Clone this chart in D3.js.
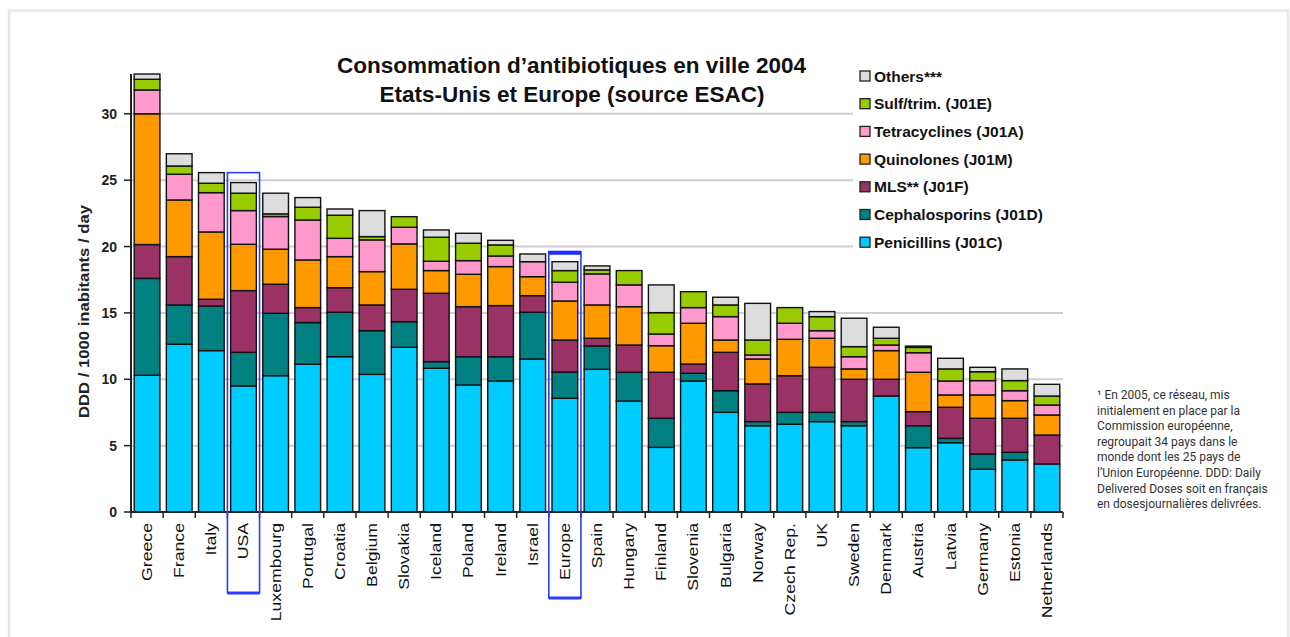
<!DOCTYPE html>
<html>
<head>
<meta charset="utf-8">
<script src="https://cdn.jsdelivr.net/npm/d3@7"></script>
<style>
  html, body { margin: 0; padding: 0; background: #fff; }
  svg { display: block; }
  .tick-label { font-family: "Liberation Sans", Arial, sans-serif; font-weight: bold; font-size: 14px; fill: #222; }
  .cat-label { font-family: "Liberation Sans", Arial, sans-serif; font-size: 15px; fill: #111; }
  .legend-label { font-family: "Liberation Sans", Arial, sans-serif; font-weight: bold; font-size: 15.5px; fill: #111; }
  .title { font-family: "Liberation Sans", Arial, sans-serif; font-weight: bold; font-size: 22px; fill: #111; }
  .note { font-family: Roboto, "Liberation Sans", sans-serif; font-size: 12px; fill: #333; }
</style>
</head>
<body>
<svg id="chart" width="1290" height="637"></svg>
<script>
// Outpatient antibiotic use, 2004 (DDD per 1000 inhabitants per day)
const categories = ["Greece", "France", "Italy", "USA", "Luxembourg", "Portugal", "Croatia", "Belgium",
  "Slovakia", "Iceland", "Poland", "Ireland", "Israel", "Europe", "Spain", "Hungary", "Finland",
  "Slovenia", "Bulgaria", "Norway", "Czech Rep.", "UK", "Sweden", "Denmark", "Austria", "Latvia",
  "Germany", "Estonia", "Netherlands"];

const penicillins    = [10.3, 12.64, 12.16, 9.5, 10.27, 11.13, 11.7, 10.37, 12.41, 10.83, 9.57, 9.87, 11.53, 8.57, 10.75, 8.36, 4.87, 9.87, 7.51, 6.5, 6.61, 6.81, 6.5, 8.74, 4.85, 5.22, 3.22, 3.92, 3.62];
const cephalosporins = [7.3, 2.96, 3.36, 2.53, 4.7, 3.14, 3.35, 3.29, 1.93, 0.5, 2.13, 1.83, 3.52, 1.98, 1.76, 2.17, 2.19, 0.58, 1.63, 0.31, 0.9, 0.7, 0.31, 0, 1.65, 0.33, 1.15, 0.58, 0];
const mls            = [2.55, 3.64, 0.51, 4.65, 2.19, 1.13, 1.85, 1.94, 2.44, 5.15, 3.77, 3.85, 1.25, 2.41, 0.58, 2.05, 3.47, 0.7, 2.89, 2.84, 2.76, 3.39, 3.19, 1.26, 1.06, 2.34, 2.69, 2.56, 2.18];
const quinolones     = [9.85, 4.27, 5.07, 3.49, 2.64, 3.59, 2.34, 2.51, 3.42, 1.71, 2.44, 2.94, 1.43, 2.94, 2.51, 2.89, 2.0, 3.07, 0.93, 1.88, 2.74, 2.19, 0.78, 2.16, 2.97, 0.93, 1.76, 1.33, 1.51];
const tetracyclines  = [1.8, 1.94, 2.96, 2.54, 2.46, 3.01, 1.38, 2.39, 1.25, 0.7, 1.03, 0.8, 1.13, 1.41, 2.34, 1.64, 0.88, 1.18, 1.76, 0.3, 1.21, 0.57, 0.92, 0.42, 1.47, 1.05, 1.08, 0.75, 0.75];
const sulfTrim       = [0.8, 0.62, 0.71, 1.31, 0.2, 0.96, 1.74, 0.25, 0.8, 1.81, 1.31, 0.83, 0, 0.88, 0.3, 1.08, 1.61, 1.2, 0.88, 1.13, 1.18, 1.06, 0.76, 0.51, 0.4, 0.91, 0.67, 0.76, 0.68];
const others         = [0.4, 0.92, 0.8, 0.8, 1.56, 0.73, 0.47, 1.96, 0, 0.55, 0.75, 0.35, 0.58, 0.67, 0.3, 0, 2.09, 0, 0.58, 2.76, 0, 0.38, 2.14, 0.83, 0.1, 0.8, 0.33, 0.88, 0.88];

const seriesNames = ["Penicillins (J01C)", "Cephalosporins (J01D)", "MLS** (J01F)", "Quinolones (J01M)",
  "Tetracyclines (J01A)", "Sulf/trim. (J01E)", "Others***"];
const seriesValues = [penicillins, cephalosporins, mls, quinolones, tetracyclines, sulfTrim, others];
const seriesColors = ["#00ccff", "#008080", "#993366", "#ff9900", "#ff99cc", "#99cc00", "#dddddd"];

const yTicks = [0, 5, 10, 15, 20, 25, 30];
const highlighted = ["USA", "Europe"];

const noteLines = [
  "\u00b9 En 2005, ce réseau, mis",
  "initialement en place par la",
  "Commission européenne,",
  "regroupait 34 pays dans le",
  "monde dont les 25 pays de",
  "l’Union Européenne. DDD: Daily",
  "Delivered Doses soit en français",
  "en dosesjournalières delivrées."
];

// Build one row per category for d3.stack
const keys = seriesNames;
const rows = categories.map((c, i) => {
  const r = { category: c };
  keys.forEach((k, j) => { r[k] = seriesValues[j][i]; });
  return r;
});
const stacked = d3.stack().keys(keys)(rows);

const svg = d3.select("#chart");
const plot = { left: 131, right: 1063, top: 74, bottom: 512 };

// page frame
svg.append("rect").attr("x", 9).attr("y", 10.5).attr("width", 1279).attr("height", 640)
  .attr("fill", "none").attr("stroke", "#e4e7f1").attr("stroke-width", 2.5);

const x = d3.scaleBand().domain(categories).range([plot.left, plot.right])
  .paddingInner(0.2).paddingOuter(0.1);
const y = d3.scaleLinear().domain([0, 33]).range([plot.bottom, plot.top]);

// horizontal gridlines
svg.append("g").selectAll("line").data(yTicks.filter(t => t > 0)).join("line")
  .attr("x1", plot.left).attr("x2", plot.right)
  .attr("y1", d => y(d)).attr("y2", d => y(d))
  .attr("stroke", "#d3cdd6").attr("stroke-width", 2);

// legend background hides gridlines behind it
svg.append("rect").attr("x", 853).attr("y", 62).attr("width", plot.right - 853 + 2).attr("height", 195)
  .attr("fill", "#fff");

// stacked bars
const layers = svg.append("g").selectAll("g").data(stacked).join("g")
  .attr("fill", (d, i) => seriesColors[i]);
layers.selectAll("rect").data(d => d.filter(s => s[1] - s[0] > 0)).join("rect")
  .attr("x", d => x(d.data.category))
  .attr("width", x.bandwidth())
  .attr("y", d => y(d[1]))
  .attr("height", d => y(d[0]) - y(d[1]))
  .attr("stroke", "#111").attr("stroke-width", 1.4);

// axes
const step = x.step();
const gap = step * x.paddingInner();
const boundaries = categories.map(c => x(c) - gap / 2).concat([x(categories[categories.length - 1]) + x.bandwidth() + gap / 2]);

const axisG = svg.append("g").attr("stroke", "#222");
axisG.append("line").attr("x1", plot.left).attr("x2", plot.left)
  .attr("y1", plot.top).attr("y2", plot.bottom + 1).attr("stroke-width", 2);
axisG.append("line").attr("x1", plot.left).attr("x2", plot.right)
  .attr("y1", plot.bottom).attr("y2", plot.bottom).attr("stroke-width", 2);
axisG.selectAll(".ytick").data(yTicks).join("line")
  .attr("x1", plot.left - 7).attr("x2", plot.left)
  .attr("y1", d => y(d)).attr("y2", d => y(d)).attr("stroke-width", 1.5);
axisG.selectAll(".xtick").data(boundaries).join("line")
  .attr("x1", d => d).attr("x2", d => d)
  .attr("y1", plot.bottom).attr("y2", plot.bottom + 6).attr("stroke-width", 1.5);

svg.append("g").selectAll("text").data(yTicks).join("text")
  .attr("class", "tick-label")
  .attr("x", plot.left - 14).attr("y", d => y(d)).attr("dy", "0.36em")
  .attr("text-anchor", "end").text(d => d);

// category labels, rotated and drawn slightly elongated
svg.append("g").selectAll("text").data(categories).join("text")
  .attr("class", "cat-label")
  .attr("transform", d => `translate(${x(d) + x.bandwidth() / 2 + 5},${plot.bottom + 11}) rotate(-90) scale(1.18,1)`)
  .attr("text-anchor", "end").text(d => d);

// highlight frames around USA and Europe
const totals = categories.map((c, i) => d3.sum(seriesValues, s => s[i]));
const hl = svg.append("g");
highlighted.forEach((c, k) => {
  const i = categories.indexOf(c);
  const x0 = x(c) - gap / 2, x1 = x(c) + x.bandwidth() + gap / 2;
  const yTop = y(totals[i] + 0.75);
  const yBot = plot.bottom + (k === 0 ? 81 : 86);
  hl.append("rect").attr("x", x0).attr("y", yTop).attr("width", x1 - x0).attr("height", yBot - yTop)
    .attr("fill", "none").attr("stroke", "#2a3cff").attr("stroke-width", 1.6);
  hl.append("line").attr("x1", x0).attr("x2", x1).attr("y1", yBot).attr("y2", yBot)
    .attr("stroke", "#2a3cff").attr("stroke-width", 3);
  if (k === 1) {
    hl.append("line").attr("x1", x0).attr("x2", x1).attr("y1", yTop + 1).attr("y2", yTop + 1)
      .attr("stroke", "#1a2cff").attr("stroke-width", 4);
  }
});

// title
svg.append("text").attr("class", "title").attr("x", 571.5).attr("y", 73)
  .attr("text-anchor", "middle").attr("textLength", 469).attr("lengthAdjust", "spacingAndGlyphs")
  .text("Consommation d’antibiotiques en ville 2004");
svg.append("text").attr("class", "title").attr("x", 572).attr("y", 102)
  .attr("text-anchor", "middle").attr("textLength", 385).attr("lengthAdjust", "spacingAndGlyphs")
  .text("Etats-Unis et Europe (source ESAC)");

// y axis title
svg.append("text").attr("class", "tick-label")
  .attr("transform", `translate(89,${(205 + 418) / 2}) rotate(-90)`)
  .attr("text-anchor", "middle").attr("textLength", 213).attr("lengthAdjust", "spacingAndGlyphs")
  .text("DDD / 1000 inabitants / day");

// legend, top entry first
const legendOrder = d3.range(seriesNames.length).reverse();
const lg = svg.append("g").selectAll("g").data(legendOrder).join("g")
  .attr("transform", (d, i) => `translate(860,${76 + i * 27.7})`);
lg.append("rect").attr("x", 0).attr("y", -5).attr("width", 10).attr("height", 10)
  .attr("fill", d => seriesColors[d]).attr("stroke", "#222").attr("stroke-width", 1.3);
lg.append("text").attr("class", "legend-label").attr("x", 14).attr("y", 0).attr("dy", "0.36em")
  .text(d => seriesNames[d]);

// footnote
svg.append("g").selectAll("text").data(noteLines).join("text")
  .attr("class", "note").attr("x", 1097).attr("y", (d, i) => 399 + i * 15.6)
  .text(d => d);
</script>
</body>
</html>
